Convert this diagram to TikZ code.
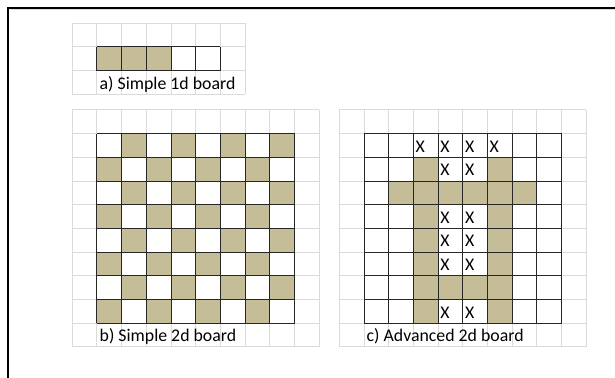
\documentclass[tikz,border=0pt]{standalone}
\usepackage{fontspec}
\setmainfont{Carlito}
\usepackage{xcolor}
\usepackage{tikz}
\definecolor{tancol}{RGB}{196,189,151}
\definecolor{gridcol}{RGB}{218,218,218}

\tikzset{
  gridline/.style={draw=gridcol, line width=1pt},
  boardline/.style={draw=black!85, line width=1pt},
  tancell/.style={fill=tancol},
  lbl/.style={anchor=base west, inner sep=0pt, xshift=2.5pt, font=\fontsize{17.8}{20}\selectfont},
  xmark/.style={anchor=base west, inner sep=0pt, xshift=2pt, font=\fontsize{17.8}{20}\selectfont}
}

\begin{document}
\begin{tikzpicture}[x=24.7pt, y=23.7pt]
  \useasboundingbox (0,0) rectangle (24.899,15.949);
  % page edge
  \draw[gridcol, line width=1pt] (0.40,15.53) -- (24.899,15.53);
  \draw[line width=2pt] (0.324,0) -- (0.324,15.612) -- (24.899,15.612);

  % a) one row
  \begin{scope}[shift={(2.927,11.966)}]
    \foreach \i in {0,...,7} \draw[gridline] (\i,0) -- (\i,3);
    \foreach \j in {0,...,3} \draw[gridline] (0,\j) -- (7,\j);
    \foreach \c in {1,2,3} \fill[tancell] (\c,1) rectangle (\c+1,2);
    \foreach \i in {1,...,6} \draw[boardline] (\i,1) -- (\i,2);
    \draw[boardline] (1,1) -- (6,1) (1,2) -- (6,2);
    \node[lbl] (lbla) at (1,0.22) {a) Simple 1d board};
  \end{scope}

  % b) checkerboard
  \begin{scope}[shift={(2.927,1.308)}]
    \foreach \i in {0,...,10} {
      \draw[gridline] (\i,0) -- (\i,10);
      \draw[gridline] (0,\i) -- (10,\i);
    }
    \foreach \r in {1,...,8}
      \foreach \c in {1,3,5,7} {
        \pgfmathtruncatemacro\cc{\c+mod(\r,2)}
        \fill[tancell] (\cc,9-\r) rectangle (\cc+1,10-\r);
      }
    \foreach \i in {1,...,9} {
      \draw[boardline] (\i,1) -- (\i,9);
      \draw[boardline] (1,\i) -- (9,\i);
    }
    \node[lbl] (lblb) at (1,0.22) {b) Simple 2d board};
  \end{scope}

  % c) board with blocked cells
  \begin{scope}[shift={(13.737,1.308)}]
    \foreach \i in {0,...,10} {
      \draw[gridline] (\i,0) -- (\i,10);
      \draw[gridline] (0,\i) -- (10,\i);
    }
    \foreach \c/\r in {3/2,6/2,2/3,3/3,4/3,5/3,6/3,7/3,3/4,6/4,3/5,6/5,3/6,6/6,
                       3/7,4/7,5/7,6/7,3/8,6/8}
      \fill[tancell] (\c,9-\r) rectangle (\c+1,10-\r);
    \foreach \i in {1,...,9} {
      \draw[boardline] (\i,1) -- (\i,9);
      \draw[boardline] (1,\i) -- (9,\i);
    }
    \foreach \c/\r in {3/1,4/1,5/1,6/1,4/2,5/2,4/4,5/4,4/5,5/5,4/6,5/6,4/8,5/8}
      \node[xmark] (x\c\r) at (\c,9.22-\r) {X};
    \node[lbl] (lblc) at (1,0.22) {c) Advanced 2d board};
  \end{scope}
\end{tikzpicture}
\end{document}
